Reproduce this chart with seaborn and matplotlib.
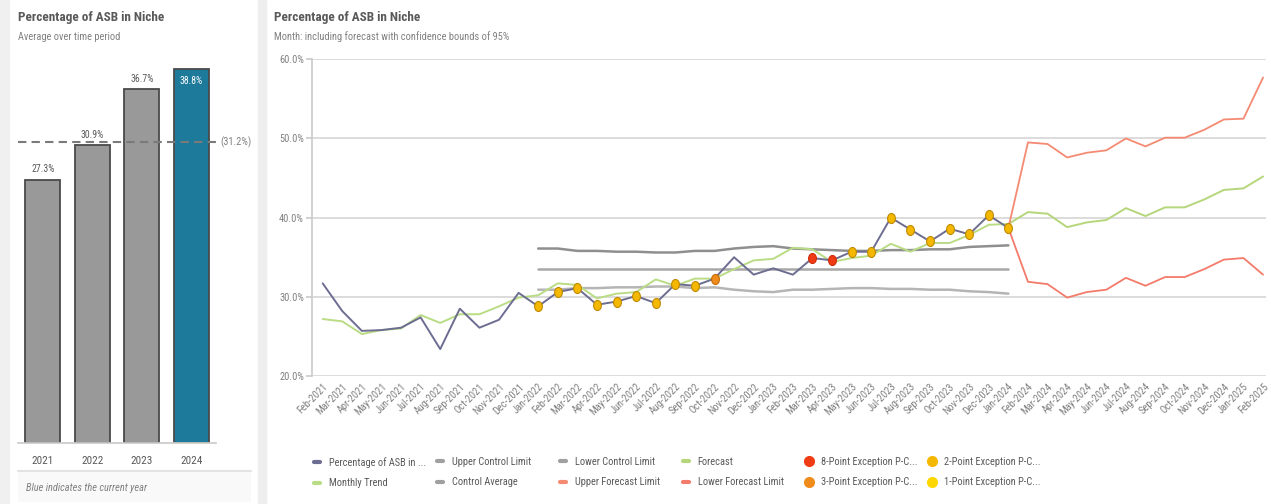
import numpy as np
import pandas as pd
import seaborn as sns
import matplotlib.pyplot as plt
from matplotlib import font_manager as fm
from matplotlib.lines import Line2D
from matplotlib.patches import Rectangle
from matplotlib.path import Path
from matplotlib.transforms import Affine2D, blended_transform_factory

# yearly averages (left panel)
years = ['2021', '2022', '2023', '2024']
year_avg = [27.3, 30.9, 36.7, 38.8]
overall_avg = 31.2

# monthly axis Feb-2021 .. Feb-2025
months = pd.date_range('2021-02-01', '2025-02-01', freq='MS').strftime('%b-%Y').tolist()

# actual % ASB, Feb-2021 .. Jan-2024
asb_pct = [31.7, 28.2, 25.7, 25.8, 26.1, 27.4, 23.4, 28.5, 26.1, 27.1, 30.5,
           28.8, 30.6, 31.1, 29.0, 29.4, 30.1, 29.2, 31.6, 31.4, 32.3, 35.0, 32.8,
           33.6, 32.8, 34.9, 34.6, 35.7, 35.7, 40.0, 38.5, 37.0, 38.6, 37.9, 40.3,
           38.7]
monthly_trend = [27.2, 26.9, 25.3, 25.8, 26.0, 27.7, 26.7, 27.8, 27.8, 28.8, 29.9,
                 30.2, 31.7, 31.5, 29.8, 30.4, 30.6, 32.2, 31.4, 32.3, 32.3, 33.5, 34.6,
                 34.8, 36.2, 36.0, 34.4, 34.9, 35.2, 36.7, 35.7, 36.8, 36.8, 37.8, 39.1,
                 39.2]

# control chart, Jan-2022 .. Jan-2024
ctrl_start = 11
ucl = [36.1, 36.1, 35.8, 35.8, 35.7, 35.7, 35.6, 35.6, 35.8, 35.8, 36.1, 36.3,
       36.4, 36.1, 36.0, 35.9, 35.8, 35.8, 35.9, 35.9, 36.0, 36.0, 36.3, 36.4, 36.5]
lcl = [30.9, 30.9, 31.1, 31.1, 31.2, 31.2, 31.3, 31.3, 31.1, 31.2, 30.9, 30.7,
       30.6, 30.9, 30.9, 31.0, 31.1, 31.1, 31.0, 31.0, 30.9, 30.9, 30.7, 30.6, 30.4]
ctrl_avg = [33.5, 33.5, 33.5, 33.5, 33.5, 33.5, 33.5, 33.5, 33.5, 33.5, 33.5, 33.5,
            33.5, 33.5, 33.5, 33.5, 33.5, 33.5, 33.5, 33.5, 33.5, 33.5, 33.5, 33.5, 33.5]

# forecast, Jan-2024 .. Feb-2025
fc_start = 35
forecast = [39.2, 40.7, 40.5, 38.8, 39.4, 39.7, 41.2, 40.2, 41.3, 41.3, 42.3, 43.5, 43.7, 45.2]
upper_fc = [38.7, 49.5, 49.3, 47.6, 48.2, 48.5, 50.0, 49.0, 50.1, 50.1, 51.1, 52.4, 52.5, 57.7]
lower_fc = [38.7, 31.9, 31.6, 29.9, 30.6, 30.9, 32.4, 31.4, 32.5, 32.5, 33.5, 34.7, 34.9, 32.8]

# exception points (month labels)
exc_8pt = ['Mar-2023', 'Apr-2023']
exc_3pt = ['Oct-2022']
exc_2pt = ['Jan-2022', 'Feb-2022', 'Mar-2022', 'Apr-2022', 'May-2022', 'Jun-2022',
           'Jul-2022', 'Aug-2022', 'Sep-2022', 'May-2023', 'Jun-2023', 'Jul-2023',
           'Aug-2023', 'Sep-2023', 'Oct-2023', 'Nov-2023', 'Dec-2023', 'Jan-2024']
exc_1pt = []

sns.set_theme(style='white')
names = {f.name for f in fm.fontManager.ttflist}
narrow = [n for n in ['Liberation Sans Narrow', 'Roboto Condensed', 'Open Sans Condensed'] if n in names]
if narrow:
    plt.rcParams['font.family'] = [narrow[0], 'DejaVu Sans']
elif 'Roboto' in names:
    plt.rcParams['font.family'] = ['Roboto', 'DejaVu Sans']
else:
    plt.rcParams['font.family'] = ['DejaVu Sans']

TXT = '#595959'
SUB = '#808080'
W, H = 1271, 504

fig = plt.figure(figsize=(W / 100, H / 100), dpi=100, facecolor='white')

def px(x0, y0, w, h):
    # pixel box (from top-left) -> figure fraction
    return [x0 / W, 1 - (y0 + h) / H, w / W, h / H]

# page chrome
fig.patches.append(Rectangle((0, 0), 9 / W, 1, transform=fig.transFigure, color='#f0f0f0', zorder=0))
fig.patches.append(Rectangle((258 / W, 0), 8 / W, 1, transform=fig.transFigure, color='#eeeeee', zorder=0))
fig.patches.append(Rectangle((18 / W, 2 / H), 233 / W, 31 / H, transform=fig.transFigure,
                             facecolor='#f9f9f9', edgecolor='none', zorder=0))
fig.lines.append(Line2D([18 / W, 251 / W], [1 - 471 / H] * 2, transform=fig.transFigure,
                        color='#e3e3e3', lw=1.5))

fig.text(18 / W, 1 - 18 / H, 'Percentage of ASB in Niche', fontsize=9.5, fontweight='bold', color=TXT, va='center')
fig.text(18 / W, 1 - 37 / H, 'Average over time period', fontsize=7.5, color=SUB, va='center')
fig.text(274 / W, 1 - 18 / H, 'Percentage of ASB in Niche', fontsize=9.5, fontweight='bold', color=TXT, va='center')
fig.text(274 / W, 1 - 37 / H, 'Month: including forecast with confidence bounds of 95%', fontsize=7.5, color=SUB, va='center')
fig.text(26 / W, 1 - 488 / H, 'Blue indicates the current year', fontsize=7.5, color=SUB, style='italic', va='center')

# ---- left: yearly averages
axL = fig.add_axes(px(18, 57.5, 198, 385))
sns.barplot(x=years, y=year_avg, hue=years, palette=['#999999', '#999999', '#999999', '#1d7a9b'],
            legend=False, width=0.7, saturation=1, edgecolor='#4a4a4a', linewidth=1.3, ax=axL)
axL.set_ylim(0, 40)
axL.set_xlim(-0.5, 3.5)
for i, v in enumerate(year_avg):
    if i == len(year_avg) - 1:
        axL.annotate(f'{v}%', (i, v), xytext=(0, -5), textcoords='offset points', ha='center',
                     va='top', fontsize=7, color='white')
    else:
        axL.annotate(f'{v}%', (i, v), xytext=(0, 4), textcoords='offset points', ha='center',
                     va='bottom', fontsize=7, color=TXT)
axL.axhline(overall_avg, color='#7a7a7a', lw=1.5, ls=(0, (4, 2.5)), zorder=3)
tr = blended_transform_factory(axL.transAxes, axL.transData)
axL.text(1.02, overall_avg, f'({overall_avg}%)', transform=tr, fontsize=7.5, color=SUB,
         va='center', ha='left', clip_on=False)
for s in ['top', 'right', 'left']:
    axL.spines[s].set_visible(False)
axL.spines['bottom'].set_color('#cccccc')
axL.set_yticks([])
axL.set_xlabel('')
axL.set_ylabel('')
axL.tick_params(axis='x', length=0, labelsize=8, labelcolor=TXT, pad=10)
axL.set_facecolor('none')

# ---- right: monthly control chart + forecast
axR = fig.add_axes(px(312.3, 59.3, 953.7, 316.7))
x_act = np.arange(len(asb_pct))
x_ctrl = np.arange(ctrl_start, ctrl_start + len(ucl))
x_fc = np.arange(fc_start, fc_start + len(forecast))

sns.lineplot(x=x_ctrl, y=ucl, color='#8f8f8f', lw=1.8, ax=axR, zorder=2)
sns.lineplot(x=x_ctrl, y=ctrl_avg, color='#a8a8a8', lw=1.8, ax=axR, zorder=2)
sns.lineplot(x=x_ctrl, y=lcl, color='#b5b5b5', lw=1.8, ax=axR, zorder=2)
sns.lineplot(x=x_act, y=monthly_trend, color='#b9dc85', lw=1.4, ax=axR, zorder=3)
sns.lineplot(x=x_fc, y=forecast, color='#b5d67a', lw=1.4, ax=axR, zorder=3)
sns.lineplot(x=x_fc, y=upper_fc, color='#f58a72', lw=1.3, ax=axR, zorder=3)
sns.lineplot(x=x_fc, y=lower_fc, color='#f47a6a', lw=1.3, ax=axR, zorder=3)
sns.lineplot(x=x_act, y=asb_pct, color='#6d6d92', lw=1.4, ax=axR, zorder=4)

ellipse = Path.unit_circle().transformed(Affine2D().scale(0.78, 1.0))
exc_groups = [(exc_8pt, '#f03c14', '#d02a08'), (exc_3pt, '#f08c1c', '#c96a08'),
              (exc_2pt, '#f5b800', '#c08a00'), (exc_1pt, '#ffd700', '#d0a800')]
for labs, fc, ec in exc_groups:
    if not labs:
        continue
    idx = [months.index(m) for m in labs]
    sns.scatterplot(x=idx, y=[asb_pct[i] for i in idx], marker=ellipse, s=52, color=fc,
                    edgecolor=ec, linewidth=0.8, ax=axR, zorder=5)

axR.set_xlim(-0.53, 48.15)
axR.set_ylim(20, 60)
axR.set_yticks([20, 30, 40, 50, 60])
axR.set_yticklabels([f'{t:.1f}%' for t in [20, 30, 40, 50, 60]])
axR.yaxis.grid(True, color='#d9d9d9', lw=1.3)
axR.set_axisbelow(True)
axR.set_xticks(np.arange(len(months)))
axR.set_xticklabels(months, rotation=45, ha='right', rotation_mode='anchor')
axR.tick_params(axis='x', length=0, labelsize=7.5, labelcolor=SUB, pad=4)
axR.tick_params(axis='y', length=4, color='#cccccc', labelsize=7.5, labelcolor=SUB, pad=2, left=True)
for s in ['top', 'right', 'bottom']:
    axR.spines[s].set_visible(False)
axR.spines['left'].set_color('#cccccc')
axR.set_xlabel('')
axR.set_ylabel('')

# legend: 6 columns x 2 rows, evenly spaced
def ln(c):
    return Line2D([], [], color=c, lw=3)

def dot(c):
    return Line2D([], [], color=c, marker='o', ls='', markersize=7)

legend_cols = [
    [(ln('#6d6d92'), 'Percentage of ASB in ...'), (ln('#b9dc85'), 'Monthly Trend')],
    [(ln('#a0a0a0'), 'Upper Control Limit'), (ln('#a0a0a0'), 'Control Average')],
    [(ln('#a0a0a0'), 'Lower Control Limit'), (ln('#f58a72'), 'Upper Forecast Limit')],
    [(ln('#b5d67a'), 'Forecast'), (ln('#f47a6a'), 'Lower Forecast Limit')],
    [(dot('#f03c14'), '8-Point Exception P-C...'), (dot('#f08c1c'), '3-Point Exception P-C...')],
    [(dot('#f5b800'), '2-Point Exception P-C...'), (dot('#ffd700'), '1-Point Exception P-C...')],
]
for k, col in enumerate(legend_cols):
    leg = fig.legend([h for h, _ in col], [t for _, t in col], loc='upper left',
                     bbox_to_anchor=((314 + 123 * k) / W, 1 - 457 / H), frameon=False,
                     fontsize=7.5, handlelength=0.6, handletextpad=0.8, labelspacing=1.0,
                     borderaxespad=0, borderpad=0)
    for t in leg.get_texts():
        t.set_color(TXT)

fig.savefig('out.png', dpi=100, facecolor='white')
